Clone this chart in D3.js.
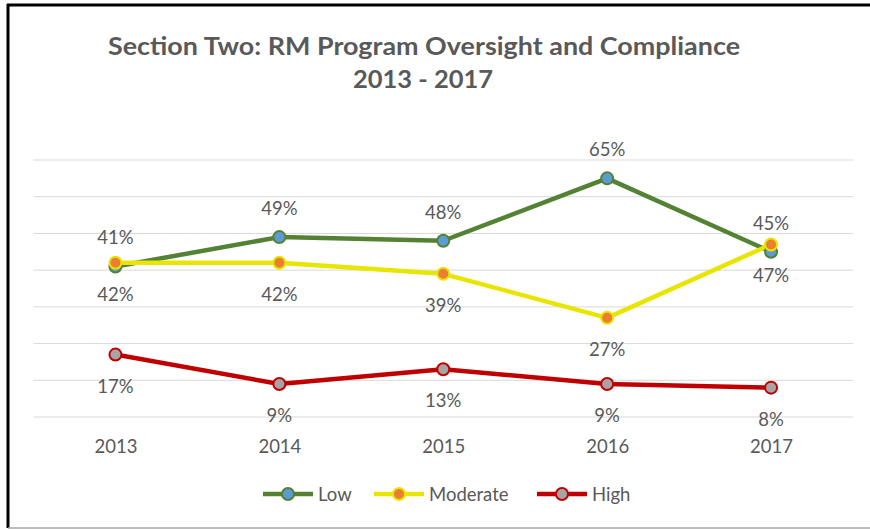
<!DOCTYPE html>
<html>
<head>
<meta charset="utf-8">
<script src="https://cdn.jsdelivr.net/npm/d3@7"></script>
<style>
  body { margin: 0; background: #fff; }
  svg { display: block; font-family: Lato, "Open Sans", sans-serif; }
</style>
</head>
<body>
<div id="chart"></div>
<script>
const years = ['2013', '2014', '2015', '2016', '2017'];
const lowValues = [41, 49, 48, 65, 45];
const moderateValues = [42, 42, 39, 27, 47];
const highValues = [17, 9, 13, 9, 8];
const yTicks = [0, 10, 20, 30, 40, 50, 60, 70];

const series = [
    { name: 'Low', values: lowValues, line: '#548235', marker: '#5b9bd5', labelPos: 'above' },
    { name: 'Moderate', values: moderateValues, line: '#e8e500', marker: '#ed7d31', labelPos: 'below' },
    { name: 'High', values: highValues, line: '#c00000', marker: '#a5a5a5', labelPos: 'below' }
];

const W = 870, H = 529;
const svg = d3.select('#chart').append('svg')
    .attr('width', W)
    .attr('height', H);

// frame: black top/left, grey bottom
svg.append('line').attr('x1', 7).attr('x2', W).attr('y1', 5).attr('y2', 5)
    .attr('stroke', '#000').attr('stroke-width', 3);
svg.append('line').attr('x1', 8).attr('x2', 8).attr('y1', 4).attr('y2', 528)
    .attr('stroke', '#000').attr('stroke-width', 3);
svg.append('line').attr('x1', 8).attr('x2', W).attr('y1', 528).attr('y2', 528)
    .attr('stroke', '#a6a6a6').attr('stroke-width', 1.5);

// title (stretched to the width of the original Calibri title)
const title = svg.append('text')
    .attr('text-anchor', 'middle')
    .style('fill', '#595959')
    .style('font-size', '25px')
    .style('font-weight', 'bold');
title.append('tspan').attr('x', 424).attr('y', 55)
    .attr('textLength', 632).attr('lengthAdjust', 'spacingAndGlyphs')
    .text('Section Two: RM Program Oversight and Compliance');
title.append('tspan').attr('x', 423).attr('y', 88)
    .attr('textLength', 140).attr('lengthAdjust', 'spacingAndGlyphs')
    .text('2013 - 2017');

const x = d3.scalePoint()
    .domain(years)
    .range([33.5, 853])
    .padding(0.5);

const y = d3.scaleLinear()
    .domain([0, 70])
    .range([417, 160]);

// gridlines
svg.append('g')
    .selectAll('line')
    .data(yTicks)
    .enter()
    .append('line')
    .attr('x1', 33.5)
    .attr('x2', 853)
    .attr('y1', d => y(d))
    .attr('y2', d => y(d))
    .attr('stroke', '#d9d9d9')
    .attr('stroke-width', 1);

// category axis labels
svg.append('g')
    .attr('transform', 'translate(0,453)')
    .call(d3.axisBottom(x).tickSize(0).tickPadding(0))
    .call(g => g.select('.domain').remove())
    .selectAll('text')
    .attr('dy', 0)
    .attr('y', 0)
    .style('fill', '#595959')
    .style('font-size', '18.5px')
    .style('font-family', 'Lato, "Open Sans", sans-serif');

const line = d3.line()
    .x((d, i) => x(years[i]))
    .y(d => y(d));

series.forEach(s => {
    svg.append('path')
        .datum(s.values)
        .attr('d', line)
        .attr('fill', 'none')
        .attr('stroke', s.line)
        .attr('stroke-width', 4.5)
        .attr('stroke-linejoin', 'round');
});

series.forEach(s => {
    svg.append('g')
        .selectAll('circle')
        .data(s.values)
        .enter()
        .append('circle')
        .attr('cx', (d, i) => x(years[i]))
        .attr('cy', d => y(d))
        .attr('r', 6)
        .attr('fill', s.marker)
        .attr('stroke', s.line)
        .attr('stroke-width', 2);
});

// data labels
series.forEach(s => {
    svg.append('g')
        .selectAll('text')
        .data(s.values)
        .enter()
        .append('text')
        .attr('x', (d, i) => x(years[i]))
        .attr('y', d => y(d) + (s.labelPos === 'above' ? -22 : 38))
        .attr('text-anchor', 'middle')
        .style('fill', '#595959')
        .style('font-size', '18.5px')
        .text(d => d + '%');
});

// legend
const legendItems = [
    { s: series[0], x: 263 },
    { s: series[1], x: 374 },
    { s: series[2], x: 537 }
];
const legend = svg.append('g').attr('transform', 'translate(0,494)');
legend.selectAll('g')
    .data(legendItems)
    .enter()
    .append('g')
    .attr('transform', d => `translate(${d.x},0)`)
    .each(function (d) {
        const g = d3.select(this);
        g.append('line')
            .attr('x1', 0).attr('x2', 50)
            .attr('stroke', d.s.line)
            .attr('stroke-width', 4.5);
        g.append('circle')
            .attr('cx', 25).attr('r', 6)
            .attr('fill', d.s.marker)
            .attr('stroke', d.s.line)
            .attr('stroke-width', 2);
        g.append('text')
            .attr('x', 55).attr('y', 6.5)
            .style('fill', '#595959')
            .style('font-size', '18.5px')
            .text(d.s.name);
    });
</script>
</body>
</html>
